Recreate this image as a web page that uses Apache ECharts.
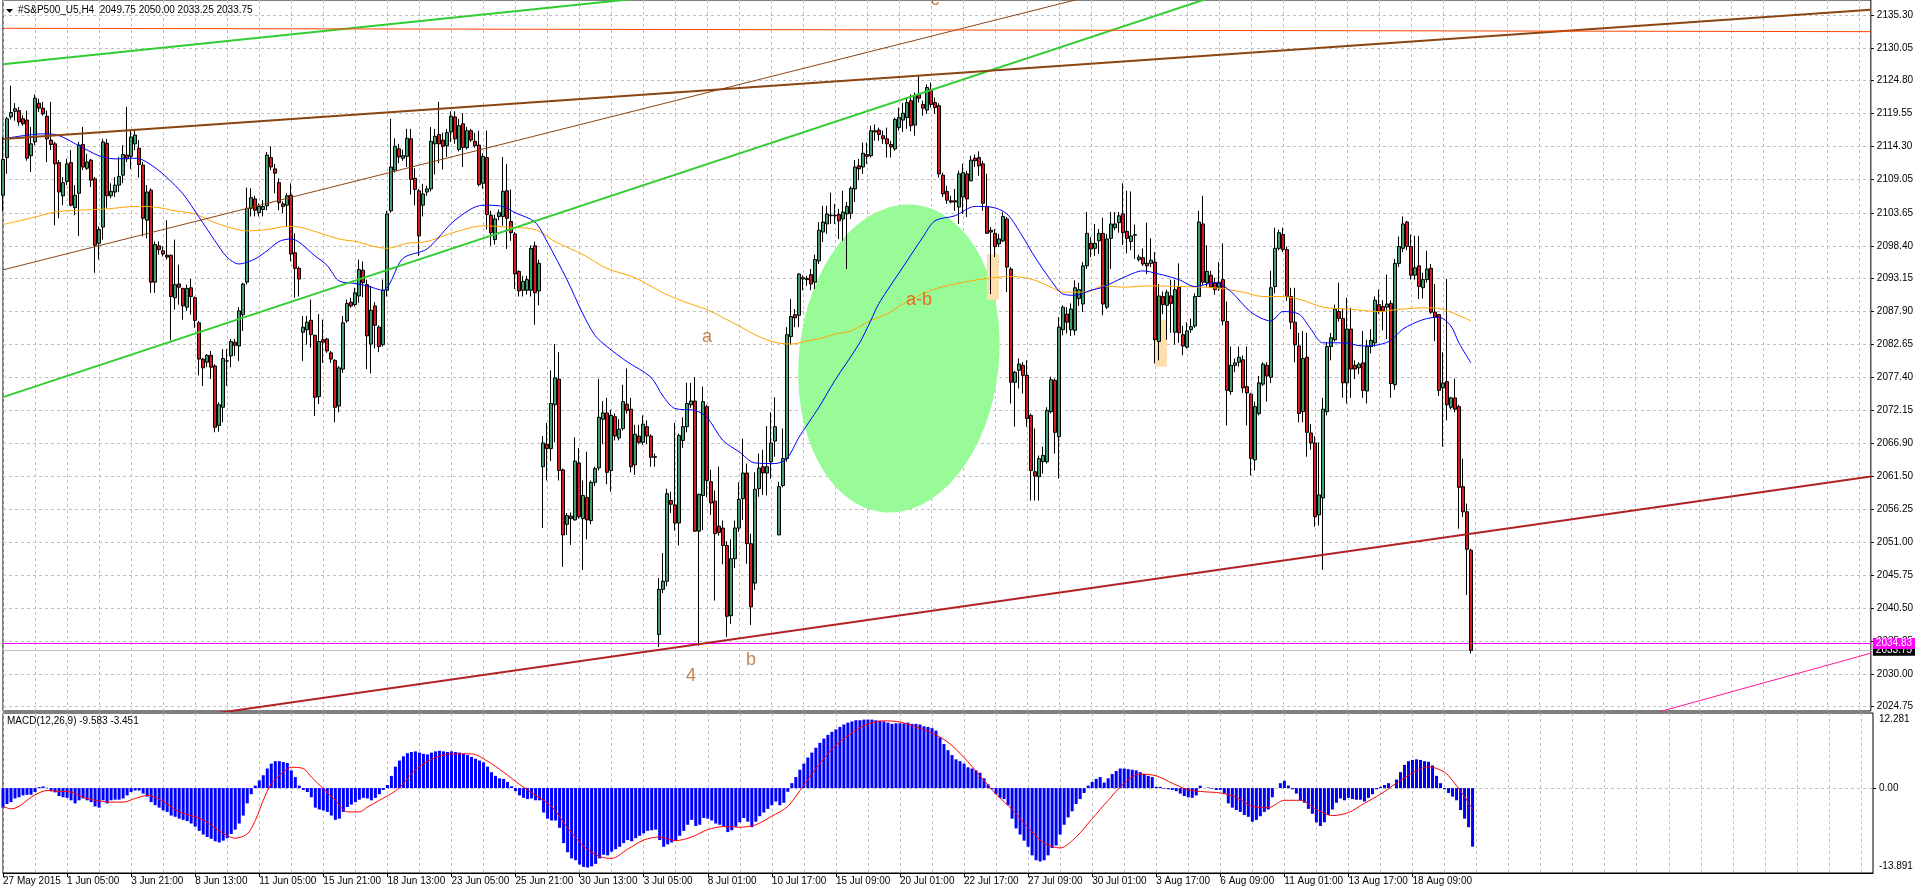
<!DOCTYPE html>
<html><head><meta charset="utf-8">
<script src="https://cdn.jsdelivr.net/npm/echarts@6/dist/echarts.min.js"></script>
<style>html,body{margin:0;padding:0;background:#fff;}#c{width:1916px;height:891px;}</style>
</head><body><div id="c"></div>
<script>
// ---------------- DATA ----------------
const timeLabels = ['27 May 2015','1 Jun 05:00','3 Jun 21:00','8 Jun 13:00','11 Jun 05:00','15 Jun 21:00','18 Jun 13:00','23 Jun 05:00','25 Jun 21:00','30 Jun 13:00','3 Jul 05:00','8 Jul 01:00','10 Jul 17:00','15 Jul 09:00','20 Jul 01:00','22 Jul 17:00','27 Jul 09:00','30 Jul 01:00','3 Aug 17:00','6 Aug 09:00','11 Aug 01:00','13 Aug 17:00','18 Aug 09:00'];
const categories = Array.from({length: 468}, (_, i) => String(i));
const priceTicks = [2135.30,2130.05,2124.80,2119.55,2114.30,2109.05,2103.65,2098.40,2093.15,2087.90,2082.65,2077.40,2072.15,2066.90,2061.50,2056.25,2051.00,2045.75,2040.50,2035.25,2030.00,2024.75];
const macdTickLabels = ['12.281','0.00','-13.891'];

const open = [
2106.5,2112.5,2119.0,2119.9,2120.0,2118.7,2118.5,2112.8,2115.0,2121.2,
2120.4,2119.1,2115.3,2114.7,2111.7,2106.4,2108.7,2111.7,2104.5,2106.8,
2114.6,2110.8,2112.1,2109.1,2098.8,2101.4,2114.8,2106.4,2107.0,2108.1,
2109.7,2112.9,2112.7,2114.7,2114.0,2111.3,2102.5,2107.3,2092.6,2098.4,
2097.6,2096.9,2096.9,2090.1,2092.3,2091.6,2088.6,2091.7,2090.1,2086.1,
2080.3,2079.8,2080.9,2079.2,2069.7,2072.6,2080.0,2080.8,2083.0,2082.4,
2087.4,2092.6,2104.4,2105.9,2103.7,2104.2,2104.8,2112.5,2110.7,2108.5,
2105.1,2104.9,2106.5,2097.3,2094.8,2084.6,2085.0,2086.5,2084.1,2074.3,
2083.4,2083.5,2081.3,2080.1,2072.8,2078.7,2086.4,2089.4,2089.0,2090.4,
2094.5,2092.2,2082.7,2088.8,2085.4,2082.6,2091.3,2104.0,2110.5,2113.9,
2112.4,2112.7,2115.5,2109.2,2107.2,2104.9,2107.0,2107.5,2114.7,2116.2,
2115.3,2114.4,2116.6,2119.0,2113.8,2117.9,2114.1,2116.8,2115.1,2114.5,
2108.4,2112.5,2103.3,2099.4,2103.1,2103.1,2107.2,2102.3,2100.3,2094.3,
2091.3,2091.3,2091.3,2098.4,2091.2,2063.1,2066.7,2066.0,2073.0,2077.1,
2062.6,2053.9,2055.2,2054.6,2063.7,2054.8,2058.2,2054.5,2060.6,2062.9,
2070.7,2071.7,2062.5,2071.1,2067.7,2069.2,2073.1,2072.3,2063.4,2068.0,
2067.0,2069.5,2068.0,2064.7,2036.3,2043.5,2044.8,2057.7,2057.0,2054.1,
2067.3,2069.5,2073.0,2073.6,2052.8,2058.5,2072.7,2060.7,2057.6,2053.6,
2053.3,2050.5,2039.3,2048.4,2053.3,2058.0,2062.1,2050.8,2044.5,2059.6,
2063.1,2062.1,2063.9,2067.2,2052.2,2060.1,2064.4,2083.9,2087.4,2087.3,
2093.1,2093.0,2093.8,2092.6,2096.0,2100.6,2101.9,2103.2,2103.2,2103.4,
2102.7,2103.5,2103.6,2107.5,2111.2,2111.0,2113.0,2112.8,2116.6,2116.9,
2116.0,2115.5,2114.6,2113.9,2117.3,2118.5,2118.9,2121.6,2117.7,2122.6,
2121.0,2120.1,2123.4,2121.3,2120.8,2109.7,2107.1,2105.6,2105.6,2104.6,
2106.2,2109.9,2108.8,2112.4,2112.5,2111.5,2104.7,2100.9,2100.4,2098.7,
2099.2,2102.7,2094.7,2076.6,2078.5,2079.3,2077.7,2071.3,2062.3,2061.5,
2063.9,2063.9,2071.9,2076.9,2067.9,2085.0,2087.5,2085.0,2084.9,2090.0,
2089.1,2095.2,2098.8,2098.0,2099.2,2100.4,2088.6,2099.6,2101.3,2102.1,
2103.5,2100.7,2099.1,2100.1,2096.2,2096.5,2095.6,2095.6,2095.8,2083.1,
2090.3,2088.9,2090.4,2084.6,2091.8,2084.2,2082.2,2085.0,2085.6,2090.3,
2101.9,2092.5,2093.7,2092.5,2091.8,2093.0,2086.3,2075.1,2079.3,2079.8,
2080.2,2075.9,2074.7,2064.2,2071.6,2076.3,2079.3,2077.4,2091.9,2098.0,
2100.2,2097.8,2090.3,2086.2,2082.4,2071.9,2080.6,2068.5,2066.9,2055.4,
2058.1,2071.9,2082.3,2083.4,2087.9,2086.8,2076.5,2085.1,2079.3,2078.9,
2079.7,2075.2,2082.3,2082.9,2089.0,2088.7,2088.6,2089.2,2076.2,2095.6,
2098.0,2102.2,2098.3,2093.7,2095.2,2091.7,2093.0,2094.8,2087.8,2087.4,
2075.7,2076.7,2072.6,2074.1,2072.7,2059.9,2055.9,2049.75];
const high = [
2115.8,2119.0,2124.0,2121.2,2120.6,2119.3,2120.0,2117.4,2122.6,2121.9,
2121.4,2120.0,2121.4,2115.0,2112.1,2109.4,2112.3,2113.7,2108.1,2115.0,
2117.4,2113.1,2112.3,2109.4,2101.5,2115.5,2115.5,2108.4,2109.4,2112.6,
2114.5,2120.6,2116.8,2117.1,2115.3,2111.8,2108.1,2107.6,2099.1,2099.1,
2098.3,2102.5,2097.0,2099.4,2095.4,2091.7,2092.2,2093.1,2090.3,2086.4,
2080.5,2081.1,2081.6,2079.5,2073.4,2081.9,2081.9,2083.5,2083.5,2088.6,
2092.5,2107.7,2107.6,2106.4,2105.2,2105.7,2113.4,2114.3,2111.5,2109.2,
2105.5,2106.8,2108.4,2100.4,2095.1,2087.2,2087.2,2089.8,2084.2,2087.5,
2086.6,2083.7,2081.6,2080.3,2079.2,2087.2,2089.8,2090.1,2091.7,2096.2,
2095.9,2093.0,2092.0,2089.4,2085.7,2093.0,2104.0,2118.7,2115.6,2114.7,
2113.8,2117.1,2117.1,2110.8,2107.5,2108.3,2108.0,2117.4,2117.1,2121.4,
2116.5,2117.1,2119.9,2119.9,2118.7,2119.6,2117.4,2117.1,2116.5,2116.8,
2113.2,2116.8,2104.0,2103.4,2104.2,2112.6,2111.5,2107.4,2100.6,2094.5,
2093.6,2093.6,2098.5,2099.1,2096.2,2068.0,2070.1,2078.5,2082.7,2081.4,
2062.8,2055.7,2055.8,2067.8,2066.1,2060.9,2065.5,2060.9,2063.1,2077.1,
2073.6,2074.1,2072.2,2071.6,2070.7,2076.2,2078.8,2074.1,2069.8,2069.8,
2071.3,2070.5,2068.3,2065.2,2045.3,2049.3,2059.6,2059.1,2070.1,2068.4,
2071.0,2076.5,2076.5,2077.4,2058.8,2075.9,2073.0,2062.6,2059.3,2063.1,
2054.5,2051.2,2051.5,2054.5,2060.6,2067.6,2063.6,2052.4,2062.2,2065.2,
2065.8,2069.6,2071.8,2074.2,2060.7,2069.2,2085.4,2089.9,2088.3,2094.0,
2093.7,2093.6,2094.7,2097.0,2102.2,2104.8,2104.8,2106.9,2105.1,2104.3,
2107.2,2105.4,2107.9,2112.1,2112.3,2114.9,2114.9,2117.6,2117.8,2117.3,
2116.8,2117.3,2115.2,2118.9,2120.5,2121.2,2122.1,2122.6,2122.9,2125.7,
2121.6,2124.2,2124.5,2122.1,2121.2,2110.1,2108.0,2106.4,2107.5,2110.4,
2111.5,2110.4,2112.8,2113.0,2113.5,2112.0,2109.9,2101.4,2101.1,2100.3,
2103.8,2103.0,2095.0,2078.4,2080.4,2079.8,2080.1,2071.6,2069.2,2064.9,
2066.3,2072.6,2077.5,2077.2,2087.0,2088.9,2088.6,2089.2,2092.9,2092.5,
2095.8,2103.8,2099.8,2101.9,2101.1,2102.9,2100.3,2103.8,2103.8,2103.8,
2108.4,2107.2,2107.1,2101.8,2097.0,2098.0,2102.1,2099.6,2097.4,2092.3,
2091.1,2091.4,2093.0,2093.0,2095.6,2085.6,2086.2,2086.8,2090.8,2104.0,
2106.4,2098.5,2094.4,2093.3,2095.8,2098.8,2089.5,2082.3,2080.4,2082.3,
2080.9,2082.3,2074.9,2073.5,2077.6,2079.8,2079.8,2094.4,2101.3,2101.0,
2101.3,2098.3,2091.7,2091.7,2084.5,2084.8,2084.5,2069.9,2068.0,2067.0,
2074.1,2083.0,2084.5,2089.0,2092.5,2088.4,2090.1,2088.5,2080.1,2079.8,
2084.8,2083.4,2085.1,2090.3,2091.4,2089.7,2093.8,2089.7,2096.3,2099.9,
2103.1,2102.4,2100.2,2100.0,2100.0,2094.1,2097.6,2095.5,2092.3,2087.5,
2081.4,2093.1,2074.3,2077.2,2073.0,2064.4,2057.2,2050.00];
const low = [
2103.9,2109.9,2118.6,2118.4,2117.6,2117.6,2112.0,2110.2,2114.5,2119.8,
2119.2,2111.8,2113.7,2101.7,2102.8,2104.9,2108.1,2104.7,2103.3,2100.0,
2110.5,2110.5,2107.8,2094.1,2096.2,2099.4,2104.5,2106.0,2106.2,2107.0,
2108.4,2111.8,2110.7,2113.7,2109.3,2099.9,2099.6,2090.9,2090.9,2097.0,
2096.7,2096.2,2083.3,2088.2,2089.0,2086.6,2088.0,2087.4,2085.3,2077.7,
2076.0,2079.0,2077.1,2068.6,2068.7,2070.2,2076.0,2079.0,2080.8,2080.0,
2084.8,2092.2,2103.1,2103.1,2103.1,2103.1,2104.1,2110.5,2106.8,2104.1,
2103.6,2101.5,2095.9,2090.1,2090.3,2080.0,2082.6,2082.1,2071.2,2073.1,
2079.7,2081.3,2079.7,2070.2,2071.8,2078.1,2086.1,2088.5,2088.7,2089.3,
2090.2,2078.7,2078.0,2082.0,2081.4,2082.3,2090.3,2103.7,2110.1,2111.6,
2112.0,2111.0,2106.6,2104.9,2096.8,2103.1,2106.4,2107.1,2109.8,2111.6,
2110.6,2112.6,2115.0,2114.7,2113.5,2111.0,2113.8,2115.0,2114.1,2107.9,
2107.5,2101.0,2098.4,2098.6,2102.5,2101.6,2097.9,2099.2,2091.5,2090.3,
2090.3,2090.6,2090.3,2085.8,2088.9,2053.3,2060.9,2064.0,2067.0,2060.9,
2047.1,2052.2,2050.6,2054.5,2054.8,2046.6,2051.5,2053.9,2060.0,2062.5,
2066.7,2060.3,2059.1,2067.3,2067.3,2068.9,2071.6,2062.2,2061.8,2066.7,
2066.6,2066.7,2063.1,2063.1,2034.3,2042.9,2044.0,2055.7,2052.9,2050.5,
2066.1,2068.6,2072.5,2052.7,2034.5,2053.0,2058.2,2055.4,2041.7,2052.1,
2047.5,2035.9,2038.0,2046.9,2052.7,2054.6,2047.6,2037.8,2043.4,2058.3,
2058.6,2058.5,2061.2,2064.7,2052.2,2059.8,2063.9,2082.7,2085.4,2085.4,
2091.3,2092.0,2091.3,2091.5,2095.5,2099.0,2100.3,2101.9,2101.9,2099.5,
2099.2,2094.7,2102.7,2105.4,2108.9,2109.9,2111.5,2112.5,2115.2,2115.2,
2114.7,2112.5,2112.5,2113.6,2116.8,2116.6,2117.1,2116.7,2116.0,2121.3,
2119.2,2119.5,2120.5,2119.5,2109.3,2106.2,2105.1,2105.2,2104.0,2101.9,
2103.5,2103.0,2108.7,2111.0,2109.6,2104.0,2100.3,2090.7,2096.6,2098.2,
2099.0,2091.0,2073.2,2069.5,2075.6,2074.8,2069.5,2057.7,2057.7,2057.7,
2062.0,2063.6,2071.6,2065.2,2061.2,2084.1,2084.4,2084.0,2084.1,2088.8,
2087.8,2094.7,2096.6,2096.8,2097.1,2087.3,2088.3,2094.7,2100.9,2100.5,
2098.5,2097.2,2097.7,2096.3,2095.9,2095.2,2093.9,2095.0,2079.6,2080.1,
2087.5,2083.4,2084.5,2082.6,2082.9,2080.9,2082.0,2084.5,2085.3,2090.3,
2092.2,2091.9,2091.7,2090.6,2091.2,2085.7,2069.7,2074.6,2078.2,2079.1,
2074.9,2069.7,2061.7,2062.5,2071.3,2076.0,2073.5,2076.5,2090.8,2097.7,
2097.4,2089.6,2085.1,2079.8,2070.2,2070.2,2064.7,2065.8,2053.5,2053.7,
2046.6,2071.3,2080.1,2083.1,2086.3,2074.1,2073.2,2074.1,2077.1,2077.9,
2074.1,2073.2,2081.2,2082.3,2087.5,2084.9,2083.5,2074.1,2075.4,2095.0,
2097.4,2097.7,2093.0,2093.0,2089.9,2090.0,2092.5,2087.5,2083.2,2074.4,
2066.3,2070.5,2072.3,2071.8,2053.2,2055.1,2042.6,2033.25];
const close = [
2112.2,2118.7,2119.7,2120.3,2118.2,2117.9,2112.4,2114.7,2122.0,2120.4,
2119.5,2115.5,2114.6,2111.5,2107.0,2108.5,2111.5,2104.9,2106.5,2114.5,
2111.0,2111.8,2108.9,2098.5,2101.0,2115.0,2106.4,2107.1,2108.1,2109.5,
2113.0,2112.3,2115.8,2116.1,2111.4,2102.8,2107.0,2092.6,2098.6,2097.8,
2097.1,2096.6,2090.3,2092.2,2091.8,2088.8,2091.6,2090.3,2086.5,2080.3,
2078.9,2080.9,2079.0,2069.4,2073.0,2080.4,2080.0,2083.1,2082.5,2088.0,
2092.3,2104.4,2106.1,2104.1,2104.7,2104.7,2112.9,2111.0,2110.0,2105.3,
2104.7,2106.4,2097.1,2094.8,2093.1,2085.4,2086.2,2084.2,2074.2,2083.1,
2083.0,2081.6,2080.3,2072.6,2078.9,2086.1,2089.2,2088.8,2090.9,2094.6,
2092.5,2084.0,2088.1,2085.7,2082.3,2091.3,2103.5,2111.0,2114.3,2112.6,
2112.8,2115.6,2109.0,2107.4,2100.0,2106.7,2107.5,2115.1,2115.9,2114.7,
2114.3,2116.5,2119.1,2115.5,2117.6,2114.1,2116.8,2115.3,2114.4,2108.2,
2112.7,2103.4,2100.5,2102.7,2103.7,2107.1,2102.8,2100.5,2093.9,2091.2,
2092.7,2093.0,2098.0,2090.9,2095.6,2066.9,2066.0,2073.2,2077.3,2062.5,
2052.2,2055.3,2054.8,2064.0,2055.1,2058.5,2054.6,2060.6,2062.8,2071.0,
2071.7,2062.2,2071.3,2068.0,2069.1,2073.5,2072.1,2063.1,2068.3,2067.0,
2069.9,2068.0,2064.6,2064.6,2043.5,2044.8,2058.8,2057.1,2054.1,2068.1,
2069.5,2073.2,2073.6,2052.8,2058.7,2073.5,2060.9,2057.3,2052.4,2052.6,
2050.5,2039.2,2048.4,2053.3,2057.9,2062.1,2050.8,2040.7,2059.5,2062.9,
2062.1,2063.1,2066.9,2069.5,2059.9,2064.4,2084.2,2087.1,2086.9,2093.9,
2093.3,2093.2,2092.3,2096.2,2100.9,2102.2,2103.5,2103.3,2103.3,2102.4,
2103.8,2104.7,2107.6,2111.0,2110.7,2113.2,2112.7,2116.8,2116.8,2116.2,
2115.5,2114.7,2114.2,2118.6,2118.9,2119.6,2121.3,2117.6,2122.4,2122.0,
2120.4,2123.7,2121.0,2120.5,2109.9,2106.7,2105.7,2105.4,2105.4,2109.9,
2110.1,2105.9,2112.1,2112.0,2111.2,2105.2,2100.4,2100.6,2098.3,2099.5,
2103.1,2095.0,2076.6,2078.2,2079.5,2077.7,2070.8,2062.5,2061.6,2064.4,
2064.9,2072.1,2077.0,2068.6,2085.4,2088.6,2086.2,2088.3,2091.7,2091.4,
2095.2,2100.4,2097.9,2098.8,2100.4,2089.1,2099.5,2101.9,2101.9,2103.2,
2100.5,2099.6,2100.0,2100.2,2096.6,2095.5,2095.2,2096.1,2083.4,2090.4,
2089.0,2091.0,2089.2,2091.4,2084.5,2082.4,2084.8,2085.5,2090.3,2102.2,
2092.6,2094.3,2091.8,2091.4,2092.6,2086.4,2075.3,2079.3,2079.7,2080.6,
2075.7,2074.9,2064.4,2072.7,2076.5,2079.5,2077.6,2091.7,2098.0,2100.5,
2097.8,2090.3,2086.2,2082.6,2071.6,2080.4,2068.6,2066.9,2055.1,2058.6,
2072.3,2082.3,2083.7,2088.3,2086.8,2076.5,2085.1,2078.7,2078.7,2079.5,
2075.3,2082.3,2083.3,2089.7,2087.9,2088.0,2089.1,2076.4,2095.6,2098.3,
2101.9,2098.3,2093.7,2094.9,2091.9,2093.0,2094.7,2087.8,2087.0,2075.3,
2076.5,2073.0,2074.1,2072.3,2059.8,2055.9,2049.9,2033.75];

// Moving averages (bar index, value)
const maFastBars = [0,10,13,19,24,28,33,35,38,41,45,49,53,56,59,63,66,69,72,74,78,81,84,88,91,95,100,106,113,120,125,128,133,136,141,145,148,151,156,162,165,168,173,176,180,184,188,193,196,199,204,208,214,217,219,225,230,233,238,243,247,251,255,258,262,265,268,272,275,280,285,289,294,298,303,307,312,317,320,324,327,330,335,340,344,347,350,355,359,362,364,367];
const maFastVals = [2115.5,2116.3,2116.2,2114.4,2112.8,2112.3,2112.4,2112.1,2110.9,2109.3,2106.7,2103.0,2099.2,2096.6,2095.5,2096.3,2097.6,2099.1,2099.5,2099.0,2096.8,2095.3,2092.8,2092.4,2092.0,2091.3,2096.4,2097.9,2102.5,2104.9,2104.7,2103.7,2102.2,2099.1,2093.0,2087.5,2084.1,2082.3,2079.9,2077.4,2074.4,2072.4,2072.1,2071.0,2067.3,2065.5,2063.7,2063.6,2064.4,2067.8,2072.6,2076.9,2082.7,2086.5,2089.2,2095.0,2099.8,2102.4,2103.2,2104.7,2104.6,2103.5,2099.8,2096.6,2092.9,2090.7,2090.5,2091.3,2091.8,2093.3,2094.4,2093.9,2093.0,2091.9,2092.5,2091.1,2087.8,2086.4,2087.9,2087.5,2085.1,2082.9,2082.9,2082.4,2082.6,2083.3,2085.1,2086.6,2087.0,2085.6,2082.9,2079.7];
const maSlowBars = [0,8,13,19,26,33,38,43,48,53,58,61,66,71,74,79,84,89,92,96,101,106,113,120,126,133,138,145,151,158,165,171,176,181,184,189,193,197,201,205,208,212,217,221,225,232,238,245,252,257,262,265,271,275,280,287,294,300,305,310,315,320,325,330,337,344,349,355,359,362,365,367];
const maSlowVals = [2101.8,2103.0,2103.8,2104.1,2104.3,2104.7,2104.6,2104.0,2103.5,2102.1,2101.1,2100.8,2101.0,2101.5,2101.4,2100.5,2099.5,2099.0,2098.4,2098.0,2098.8,2099.1,2100.6,2101.6,2101.4,2101.0,2099.1,2097.0,2094.8,2093.3,2090.9,2089.3,2088.2,2086.6,2085.6,2083.9,2083.0,2082.7,2083.2,2083.7,2084.3,2084.8,2086.5,2087.5,2089.1,2091.3,2092.3,2093.1,2093.5,2093.1,2091.8,2091.0,2091.0,2092.0,2091.8,2092.0,2091.9,2091.8,2091.55,2091.0,2090.3,2090.3,2089.7,2088.6,2088.25,2087.9,2088.25,2088.5,2088.4,2087.8,2087.0,2086.4];

// MACD(12,26,9): histogram per bar, signal line read at points
const macdHist = [
-3.2,-2.6,-2.3,-1.7,-1.5,-1.2,-1.1,-1.1,-0.65,0.16,
0.27,0.05,-0.5,-0.7,-1.3,-1.5,-1.6,-2.0,-2.5,-2.0,
-1.7,-2.0,-2.3,-3.0,-3.2,-2.0,-2.5,-2.0,-1.9,-1.9,
-1.7,-1.2,-0.65,-0.4,-0.4,-0.9,-1.4,-2.3,-2.8,-3.2,
-3.65,-3.9,-4.5,-4.7,-5.0,-5.2,-5.4,-5.8,-6.3,-7.0,
-7.6,-8.0,-8.3,-8.7,-8.9,-8.6,-8.2,-7.5,-6.8,-5.8,
-4.5,-2.5,-1.0,0.4,1.25,2.1,3.2,4.0,4.4,4.4,
4.25,4.1,2.9,1.8,0.4,-0.3,-0.65,-1.5,-3.2,-3.5,
-3.65,-3.9,-4.5,-5.2,-5.0,-3.9,-3.1,-2.7,-2.3,-1.9,
-1.6,-1.7,-2.0,-1.6,-1.0,-0.3,0.5,2.0,3.5,4.5,
5.2,5.7,5.9,6.0,5.8,5.6,5.5,5.8,6.0,6.1,
6.0,5.9,6.0,5.9,5.8,5.6,5.4,5.1,4.8,4.5,
4.2,3.5,2.6,2.0,1.6,1.5,1.0,0.3,-0.5,-1.2,
-1.6,-1.8,-1.7,-2.0,-2.0,-4.0,-5.0,-5.3,-5.3,-6.5,
-9.0,-10.5,-11.5,-11.8,-12.5,-12.9,-13.0,-12.8,-12.4,-11.5,
-10.9,-11.0,-10.4,-10.0,-9.6,-9.0,-8.5,-8.7,-8.2,-7.8,
-7.4,-7.0,-6.9,-6.8,-8.5,-9.6,-9.2,-8.9,-8.6,-7.8,
-7.0,-6.0,-5.2,-6.2,-6.0,-4.9,-5.0,-5.3,-5.8,-6.0,
-6.2,-7.2,-6.9,-6.3,-5.6,-4.9,-5.5,-6.4,-5.5,-4.6,
-4.0,-3.4,-2.8,-2.2,-2.8,-2.4,-0.6,0.8,1.8,3.0,
4.0,5.0,5.8,6.6,7.4,8.1,8.7,9.2,9.6,10.0,
10.4,10.7,10.9,11.1,11.1,11.2,11.2,11.2,11.1,11.0,
10.9,10.7,10.5,10.6,10.6,10.6,10.7,10.5,10.5,10.4,
10.1,10.0,9.8,9.4,8.3,7.2,6.2,5.4,4.7,4.4,
4.0,3.4,3.2,2.9,2.5,1.6,0.6,-0.2,-1.0,-1.6,
-1.8,-2.8,-5.0,-6.6,-7.6,-8.6,-9.6,-11.0,-11.8,-12.0,
-11.8,-11.0,-9.8,-9.4,-7.6,-6.0,-4.8,-3.8,-2.6,-1.8,
-0.8,0.4,1.0,1.5,1.8,0.9,1.6,2.3,2.8,3.2,
3.2,3.1,3.0,2.9,2.6,2.3,2.0,1.8,0.2,0.2,
-0.1,-0.2,-0.3,-0.5,-0.9,-1.3,-1.5,-1.6,-1.2,0.4,
0.0,0.1,-0.1,-0.3,-0.3,-0.9,-2.5,-3.2,-3.6,-3.9,
-4.4,-4.7,-5.5,-5.2,-4.6,-3.9,-3.5,-1.5,0.0,0.8,
1.2,0.4,-0.2,-0.9,-2.0,-2.4,-3.4,-4.2,-5.6,-6.2,
-5.6,-4.4,-3.5,-2.4,-1.7,-2.0,-1.6,-1.8,-1.9,-1.9,
-2.2,-1.6,-1.0,-0.2,0.2,0.5,0.8,0.0,1.4,2.6,
3.8,4.4,4.6,4.7,4.6,4.4,4.3,3.7,2.0,0.8,
-0.2,-0.8,-1.4,-2.0,-3.6,-5.0,-6.4,-9.583];
const signalBars = [0,2,4,6,8,11,13,17,20,23,27,30,33,36,38,41,44,48,50,54,58,61,63,65,67,70,72,75,77,80,83,86,89,91,94,97,99,103,107,112,117,121,125,129,133,137,141,145,149,152,156,160,164,168,172,176,180,184,188,192,196,200,204,208,212,216,220,224,228,232,236,240,244,248,252,256,260,264,268,272,276,280,284,288,292,296,300,304,308,312,316,320,324,328,332,336,340,344,348,352,356,360,362,364,366,367];
const signalVals = [-3.0,-3.4,-3.0,-2.0,-1.1,-0.4,-0.5,-0.65,-1.5,-2.0,-2.3,-2.3,-1.7,-1.2,-1.5,-2.6,-3.9,-4.7,-5.2,-7.0,-8.2,-7.5,-5.3,-2.0,0.7,2.6,3.4,3.2,1.8,-0.1,-2.0,-3.9,-3.9,-3.1,-2.0,-0.9,0.05,3.0,4.7,5.6,5.6,4.4,2.6,0.6,-1.2,-3.0,-6.5,-9.5,-11.2,-11.5,-10.0,-8.5,-8.0,-8.6,-8.0,-6.8,-6.3,-6.4,-6.0,-4.6,-3.0,0.5,4.0,7.0,9.0,10.5,11.0,10.8,10.0,9.0,7.5,5.0,2.0,-1.0,-3.5,-6.5,-9.0,-9.8,-8.0,-5.0,-2.0,0.8,2.3,2.0,0.8,-0.3,-0.6,-0.8,-1.5,-3.0,-3.2,-2.0,-2.0,-3.5,-4.5,-4.0,-2.5,-1.0,0.8,2.5,3.5,2.6,1.2,-0.5,-2.4,-3.451];

// Drawn objects (bar index, price)
const lineGreenUpper = [[0, 2127.44], [467, 2158.3]];
const lineGreenLower = [[0, 2074.22], [467, 2173.0]];
const lineBrownThick = [[0, 2115.46], [467, 2136.15]];
const lineBrownThin  = [[0, 2094.56], [467, 2169.7]];
const lineSupport    = [[0, 2018.84], [467, 2061.52]];
const linePink       = [[410, 2023.2], [467, 2033.3]];
const lineOrangeTop  = [[0, 2133.17], [467, 2132.63]];
const alertLevel = 2034.83;
const ellipseZone = [224, 2080.4, 25, 24.7, 6]; // centre bar, centre price, half-width in bars, half-height in price, tilt (deg)
const rectZones = [[246, 249, 2089.8, 2097.1], [288, 291, 2079.1, 2086.6]];
const annoTexts  = ['a', 'a-b', '4', 'b', 'c'];
const annoBars   = [176, 229, 172, 187, 233];
const annoPrices = [2083.9, 2089.8, 2029.65, 2032.2, 2137.7];

// ---------------- CHART ----------------
const FONT = 'Liberation Sans, Arial, sans-serif';
const GRID_C = '#c0c0c0';
const PRICE_MIN = 2024.06, PRICE_MAX = 2137.69;
const MACD_MIN = -13.891, MACD_MAX = 12.281;
const macdLabelPos = [11.25, 0, -12.75];
const annoColors = ['#b8651f', '#ff4500', '#b8651f', '#b8651f', '#b8651f'];

const every8 = (i) => i % 8 === 0;
const every16 = (i) => i % 16 === 0 && (i / 16) < timeLabels.length;
const bidLevel = close[close.length - 1];

function trend(data, color, width) {
  return { type: 'line', xAxisIndex: 0, yAxisIndex: 0, data: data, showSymbol: false, silent: true,
    lineStyle: { color: color, width: width }, z: 8, clip: true, animation: false };
}

const chart = echarts.init(document.getElementById('c'), null, { renderer: 'canvas', width: 1916, height: 891 });
chart.setOption({
  animation: false,
  backgroundColor: '#ffffff',
  grid: [
    { left: 3, right: 43, top: -1, height: 712, show: true, borderColor: '#000', borderWidth: 1 },
    { left: 3, right: 43, top: 713, height: 160, show: true, borderColor: '#000', borderWidth: 1 }
  ],
  xAxis: [
    { type: 'category', gridIndex: 0, data: categories, boundaryGap: false,
      axisLine: { show: false, onZero: false }, axisTick: { show: false }, axisLabel: { show: false },
      splitLine: { show: true, interval: every8, lineStyle: { color: GRID_C, type: [3, 3], width: 1 } } },
    { type: 'category', gridIndex: 1, data: categories, boundaryGap: false, position: 'bottom',
      axisLine: { show: true, onZero: false, lineStyle: { color: '#000', width: 1 } },
      axisTick: { show: true, interval: every16, length: 4, lineStyle: { color: '#000' } },
      axisLabel: { show: true, interval: every16, formatter: (v, idx) => timeLabels[idx / 16] || '',
        align: 'left', margin: 3, fontSize: 10, color: '#000', fontFamily: FONT },
      splitLine: { show: true, interval: every8, lineStyle: { color: GRID_C, type: [3, 3], width: 1 } } }
  ],
  yAxis: [
    { type: 'value', gridIndex: 0, position: 'right', min: PRICE_MIN, max: PRICE_MAX,
      axisLine: { show: false },
      axisTick: { show: true, customValues: priceTicks, length: 3, lineStyle: { color: '#000' } },
      axisLabel: { customValues: priceTicks, formatter: (v) => v.toFixed(2), margin: 6, fontSize: 10, color: '#000', fontFamily: FONT },
      splitLine: { show: true, lineStyle: { color: GRID_C, type: [3, 3], width: 1 } } },
    { type: 'value', gridIndex: 1, position: 'right', min: MACD_MIN, max: MACD_MAX,
      axisLine: { show: false },
      axisTick: { show: true, customValues: [0], length: 3, lineStyle: { color: '#000' } },
      axisLabel: { customValues: macdLabelPos, formatter: (v) => {
          let best = 0, d = 1e9;
          macdLabelPos.forEach((p, i) => { if (Math.abs(p - v) < d) { d = Math.abs(p - v); best = i; } });
          return macdTickLabels[best];
        }, margin: 6, fontSize: 10, color: '#000', fontFamily: FONT },
      splitLine: { show: true, lineStyle: { color: GRID_C, type: [3, 3], width: 1 } } }
  ],
  graphic: [
    { type: 'polygon', shape: { points: [[6, 9], [13, 9], [9.5, 13]] }, style: { fill: '#000' }, z: 100 },
    { type: 'text', left: 18, top: 5, z: 100, style: { text: '#S&P500_U5,H4  2049.75 2050.00 2033.25 2033.75', fontSize: 10, fontFamily: FONT, fill: '#000' } },
    { type: 'text', left: 7, top: 716, z: 100, style: { text: 'MACD(12,26,9) -9.583 -3.451', fontSize: 10, fontFamily: FONT, fill: '#000' } }
  ],
  series: [
    { type: 'custom', xAxisIndex: 0, yAxisIndex: 0, silent: true, z: 1, clip: true,
      data: [ellipseZone],
      renderItem: (params, api) => {
        const cb = api.value(0), cp = api.value(1), hw = api.value(2), hh = api.value(3), tilt = api.value(4);
        const c = api.coord([cb, cp]);
        const rx = Math.abs(api.coord([cb + hw, cp])[0] - c[0]);
        const ry = Math.abs(api.coord([cb, cp + hh])[1] - c[1]);
        return { type: 'circle', shape: { cx: 0, cy: 0, r: ry }, x: c[0], y: c[1], scaleX: rx / ry, scaleY: 1,
          rotation: -tilt * Math.PI / 180, style: { fill: '#98fb98' } };
      } },
    { type: 'custom', xAxisIndex: 0, yAxisIndex: 0, silent: true, z: 2, clip: true,
      data: rectZones,
      renderItem: (params, api) => {
        const p1 = api.coord([api.value(0), api.value(3)]);
        const p2 = api.coord([api.value(1), api.value(2)]);
        return { type: 'rect', shape: { x: p1[0], y: p1[1], width: p2[0] - p1[0], height: p2[1] - p1[1] },
          style: { fill: '#ffdead' } };
      } },
    { type: 'candlestick', xAxisIndex: 0, yAxisIndex: 0, z: 5, barWidth: 3, silent: true,
      data: open.map((o, i) => [o, close[i], low[i], high[i]]),
      itemStyle: { color: '#3f9e6b', color0: '#d41c1c', borderColor: '#000', borderColor0: '#000', borderColorDoji: '#000', borderWidth: 1 },
      markLine: { silent: true, symbol: ['none', 'none'], animation: false,
        data: [
          { yAxis: bidLevel, lineStyle: { color: '#c0c0c0', type: 'solid', width: 1 },
            label: { show: true, position: 'end', distance: 2, formatter: bidLevel.toFixed(2), backgroundColor: '#000', color: '#fff',
              fontSize: 10, fontFamily: FONT, padding: [1, 3, 0, 3], lineHeight: 10 } },
          { yAxis: alertLevel, lineStyle: { color: '#ff00ff', type: 'solid', width: 1 },
            label: { show: true, position: 'end', distance: 2, formatter: alertLevel.toFixed(2), backgroundColor: '#ff00ff', color: '#fff',
              fontSize: 10, fontFamily: FONT, padding: [1, 3, 0, 3], lineHeight: 10 } }
        ] } },
    { type: 'line', xAxisIndex: 0, yAxisIndex: 0, data: maSlowBars.map((b, i) => [b, maSlowVals[i]]), showSymbol: false, silent: true,
      smooth: 0.3, lineStyle: { color: '#ffa500', width: 1 }, z: 6 },
    { type: 'line', xAxisIndex: 0, yAxisIndex: 0, data: maFastBars.map((b, i) => [b, maFastVals[i]]), showSymbol: false, silent: true,
      smooth: 0.3, lineStyle: { color: '#0000ff', width: 1 }, z: 6 },
    trend(lineGreenUpper, '#32cd32', 2),
    trend(lineGreenLower, '#32cd32', 2),
    trend(lineBrownThick, '#8b4513', 2),
    trend(lineBrownThin, '#8b4513', 1),
    trend(lineSupport, '#b22222', 2),
    trend(linePink, '#ff1493', 1),
    trend(lineOrangeTop, '#ff4500', 1),
    { type: 'scatter', xAxisIndex: 0, yAxisIndex: 0, symbolSize: 1, silent: true, z: 20, clip: false,
      itemStyle: { color: 'rgba(0,0,0,0)' },
      data: annoTexts.map((t, i) => ({ value: [annoBars[i], annoPrices[i]],
        label: { show: true, position: 'inside', formatter: t, color: annoColors[i], fontSize: 18, fontFamily: FONT } })) },
    { type: 'bar', xAxisIndex: 1, yAxisIndex: 1, data: macdHist, barWidth: 3, silent: true, itemStyle: { color: '#0000ff' }, z: 3 },
    { type: 'line', xAxisIndex: 1, yAxisIndex: 1, data: signalBars.map((b, i) => [b, signalVals[i]]), showSymbol: false, silent: true,
      smooth: 0.3, lineStyle: { color: '#ff0000', width: 1 }, z: 4 }
  ]
});
</script>
</body></html>
